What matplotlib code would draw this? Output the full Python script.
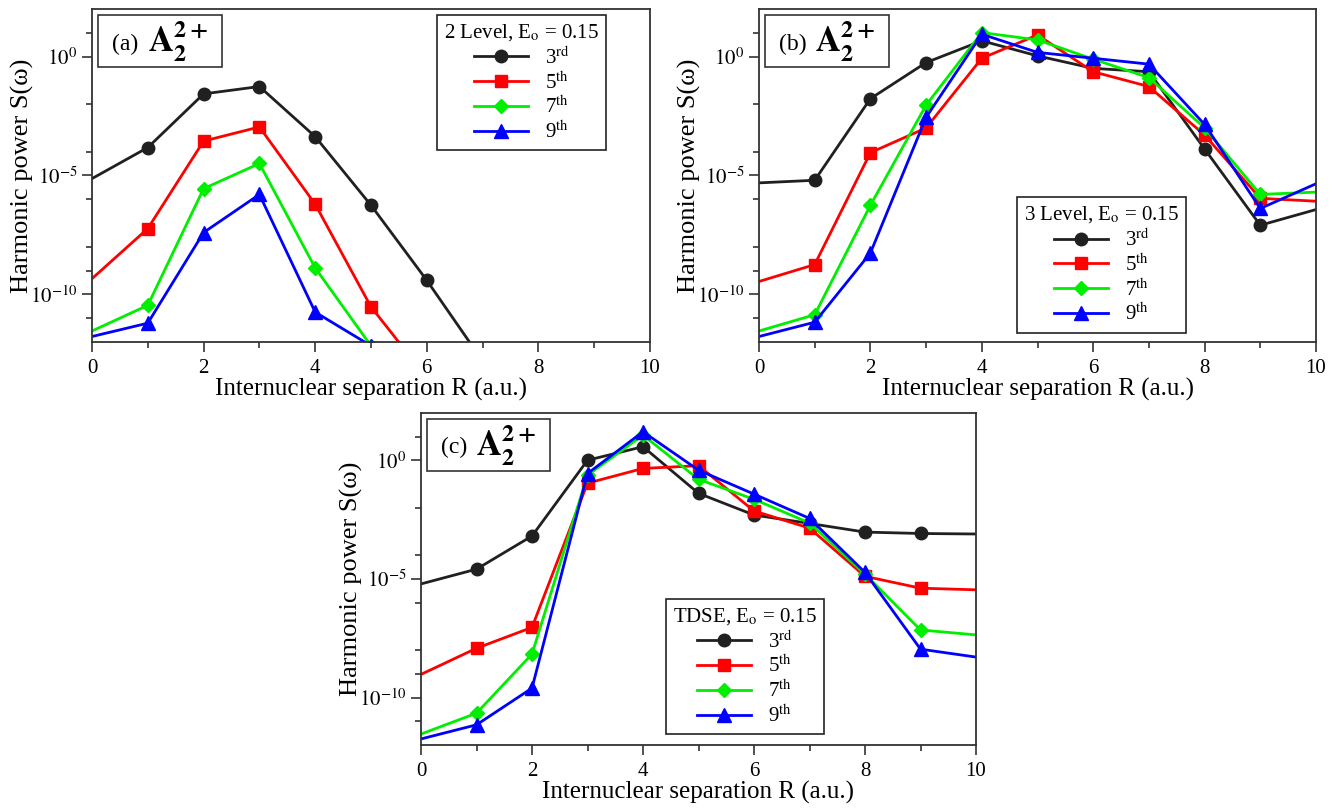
import math

import matplotlib

matplotlib.use("Agg")
import matplotlib.pyplot as plt
from matplotlib.patches import Rectangle
from matplotlib.ticker import FixedLocator, FuncFormatter

plt.rcParams["font.family"] = ["Liberation Serif", "DejaVu Serif"]
plt.rcParams["mathtext.fontset"] = "stix"

R = [0, 1, 2, 3, 4, 5, 6, 7, 8, 9, 10]
ORDER_LABELS = [r"3$^{\mathrm{rd}}$", r"5$^{\mathrm{th}}$", r"7$^{\mathrm{th}}$", r"9$^{\mathrm{th}}$"]
COLORS = ["#202020", "#ff0000", "#00ee00", "#0000ff"]
MARKERS = ["o", "s", "D", "^"]
MSIZE = [9, 8, 7.5, 10]

# (a) 2 level model; series stop once they fall well below the axis
A_3RD = [7.4e-6, 1.5e-4, 2.7e-2, 5.5e-2, 4.3e-4, 5.6e-7, 3.9e-10, 1.6e-13]
A_5TH = [4.6e-10, 5.9e-8, 2.8e-4, 1.1e-3, 6.2e-7, 3.0e-11, 3.2e-14]
A_7TH = [2.9e-12, 3.5e-11, 2.8e-6, 3.2e-5, 1.3e-9, 6.9e-13]
A_9TH = [1.7e-12, 6.2e-12, 4.0e-8, 1.6e-6, 1.8e-11, 6.9e-13]

# (b) 3 level model
B_3RD = [4.9e-6, 6.3e-6, 1.7e-2, 0.56, 4.6, 1.07, 0.32, 0.23, 1.3e-4, 8.1e-8, 3.7e-7]
B_5TH = [3.5e-10, 1.8e-9, 9.1e-5, 1.0e-3, 0.85, 8.1, 0.23, 5.5e-2, 5.0e-4, 1.1e-6, 8.3e-7]
B_7TH = [2.9e-12, 1.4e-11, 5.6e-7, 9.1e-3, 10.2, 5.0, 0.78, 0.13, 1.0e-3, 1.6e-6, 2.0e-6]
B_9TH = [1.7e-12, 6.8e-12, 5.5e-9, 2.8e-3, 8.7, 1.5, 0.85, 0.48, 1.4e-3, 4.1e-7, 4.5e-6]

# (c) TDSE
C_3RD = [6.2e-6, 2.6e-5, 6.5e-4, 1.02, 3.8, 4.1e-2, 5.0e-3, 2.2e-3, 9.5e-4, 8.3e-4, 7.9e-4]
C_5TH = [9.5e-10, 1.2e-8, 9.1e-8, 0.11, 0.46, 0.60, 7.4e-3, 1.4e-3, 1.3e-5, 4.1e-6, 3.5e-6]
C_7TH = [2.9e-12, 2.2e-11, 6.8e-9, 0.24, 11.7, 0.16, 2.3e-2, 2.3e-3, 1.6e-5, 7.1e-8, 4.4e-8]
C_9TH = [1.8e-12, 7.1e-12, 2.5e-10, 0.28, 16.2, 0.39, 3.8e-2, 3.6e-3, 1.9e-5, 1.1e-8, 5.1e-9]

W, H = 1334, 808


def axes_px(fig, left, top, right, bottom):
    return fig.add_axes([left / W, 1 - bottom / H, (right - left) / W, (bottom - top) / H])


def sci(v, pos):
    return rf"$10^{{{round(math.log10(v))}}}$"


def panel(ax, tag, series, title, legend_xy):
    for vals, lab, c, m, ms in zip(series, ORDER_LABELS, COLORS, MARKERS, MSIZE):
        ax.plot(R[:len(vals)], vals, "-", color=c, lw=2, marker=m, ms=ms,
                markevery=slice(1, 10), label=lab)
    ax.set_yscale("log")
    ax.set_xlim(0, 10)
    ax.set_ylim(1e-12, 1e2)
    ax.xaxis.set_major_locator(FixedLocator([0, 2, 4, 6, 8, 10]))
    ax.xaxis.set_minor_locator(FixedLocator([1, 3, 5, 7, 9]))
    ax.yaxis.set_major_locator(FixedLocator([1e0, 1e-5, 1e-10]))
    ax.yaxis.set_minor_locator(FixedLocator([1e1, 1e-2, 1e-4, 1e-6, 1e-8, 1e-9, 1e-11]))
    ax.yaxis.set_major_formatter(FuncFormatter(sci))
    ax.yaxis.set_minor_formatter(FuncFormatter(lambda v, p: ""))
    ax.tick_params(which="both", direction="out", top=False, right=False,
                   labelsize=15, width=1.2, color="#333333")
    ax.tick_params(which="major", length=7)
    ax.tick_params(which="minor", length=4)
    ax.tick_params(axis="x", which="major", pad=5)
    for s in ax.spines.values():
        s.set_linewidth(1.3)
        s.set_color("#333333")
    ax.set_xlabel("Internuclear separation R (a.u.)", fontsize=18, labelpad=0)
    ax.set_ylabel("Harmonic power S(ω)", fontsize=19, labelpad=-3)

    ax.add_patch(Rectangle((0.011, 0.826), 0.222, 0.156, transform=ax.transAxes,
                           fill=False, ec="#333333", lw=1.2))
    ax.text(0.036, 0.895, f"({tag})", transform=ax.transAxes, fontsize=17,
            ha="left", va="center")
    ax.text(0.1, 0.87, r"$\mathbf{A_2^{2+}}$", transform=ax.transAxes, fontsize=25,
            ha="left", va="baseline")

    leg = ax.legend(title=title, loc="upper left", bbox_to_anchor=legend_xy,
                    borderaxespad=0, fontsize=15, title_fontsize=15, frameon=True,
                    fancybox=False, framealpha=1, edgecolor="#222222",
                    handlelength=2.6, labelspacing=0.15, borderpad=0.35,
                    handletextpad=0.8)
    leg.get_frame().set_linewidth(1.2)


fig = plt.figure(figsize=(W / 100, H / 100), dpi=100)

ax_a = axes_px(fig, 92, 9, 650, 342)
panel(ax_a, "a", [A_3RD, A_5TH, A_7TH, A_9TH], r"2 Level, E$_{\mathrm{o}}$ = 0.15",
      (0.618, 0.982))

ax_b = axes_px(fig, 759, 9, 1316, 342)
panel(ax_b, "b", [B_3RD, B_5TH, B_7TH, B_9TH], r"3 Level, E$_{\mathrm{o}}$ = 0.15",
      (0.463, 0.435))

ax_c = axes_px(fig, 421, 413, 976, 745)
panel(ax_c, "c", [C_3RD, C_5TH, C_7TH, C_9TH], r"TDSE, E$_{\mathrm{o}}$ = 0.15",
      (0.441, 0.44))

fig.savefig("out.png", dpi=100)
